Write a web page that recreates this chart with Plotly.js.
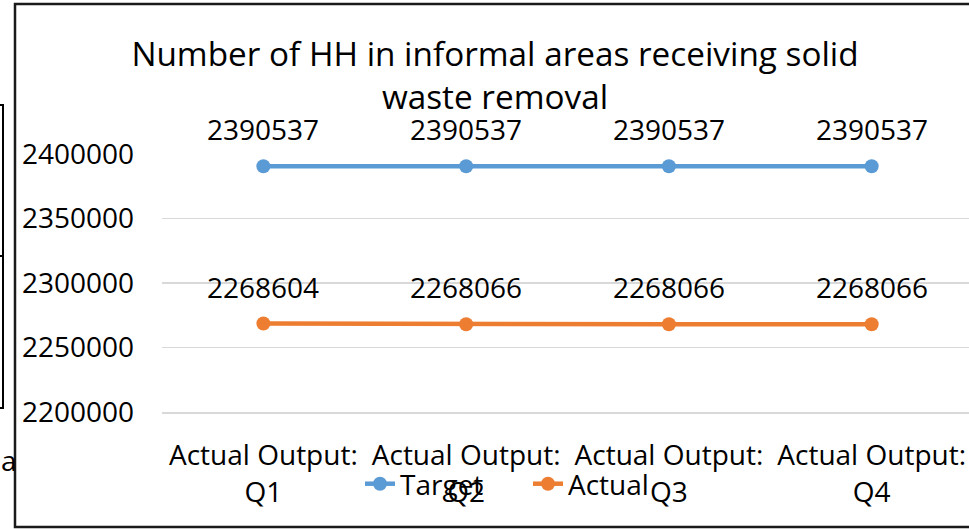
<!DOCTYPE html>
<html>
<head>
<meta charset="utf-8">
<script src="https://cdn.plot.ly/plotly-3.0.1.min.js"></script>
<style>
  body { margin: 0; background: #fff; }
  #chart { width: 969px; height: 529px; }
</style>
</head>
<body>
<div id="chart"></div>
<script>
// chart data
const quarters = ['Actual Output:<br>Q1', 'Actual Output:<br>Q2', 'Actual Output:<br>Q3', 'Actual Output:<br>Q4'];
const targetValues = [2390537, 2390537, 2390537, 2390537];
const actualValues = [2268604, 2268066, 2268066, 2268066];
const yTicks = [2200000, 2250000, 2300000, 2350000, 2400000];

const W = 969, H = 529;
const margin = {l: 162, r: 0, t: 154, b: 117, pad: 0};
const plotW = W - margin.l - margin.r;
const plotH = H - margin.t - margin.b;

// page pixels -> paper coords, used for the frame and the stray marks on the left
const px = (x) => (x - margin.l) / plotW;
const py = (y) => (H - margin.b - y) / plotH;

const FONT = 'Open Sans, Liberation Sans, sans-serif';

function makeTrace(name, values, color) {
    return {
        x: quarters,
        y: values,
        name: name,
        type: 'scatter',
        mode: 'lines+markers',
        line: {color: color, width: 4.5},
        marker: {color: color, size: 14},
        cliponaxis: false
    };
}

// data labels sitting above each point
function valueLabels(values) {
    return values.map((v, i) => ({
        x: quarters[i],
        y: v,
        text: String(v),
        showarrow: false,
        yanchor: 'middle',
        yshift: 37,
        font: {family: FONT, size: 28, color: '#000'}
    }));
}

let annotations = valueLabels(targetValues).concat(valueLabels(actualValues));
annotations.push({
    xref: 'paper', yref: 'paper',
    x: px(-1), y: py(460), xanchor: 'left', yanchor: 'middle',
    text: 'a', showarrow: false,
    font: {family: FONT, size: 28, color: '#000'}
});

let layout = {
    width: W,
    height: H,
    margin: margin,
    paper_bgcolor: '#fff',
    plot_bgcolor: '#fff',
    font: {family: FONT, size: 28, color: '#000'},
    title: {
        text: 'Number of HH in informal areas receiving solid<br>waste removal',
        font: {family: FONT, size: 33.3, color: '#000'},
        xref: 'container', yref: 'container',
        x: 495 / W, xanchor: 'center',
        y: 1 - 66 / H, yanchor: 'middle'
    },
    xaxis: {
        type: 'category',
        range: [-0.5, 3.48],
        showgrid: false,
        showline: true,
        linecolor: '#D9D9D9',
        linewidth: 1.5,
        zeroline: false,
        ticks: '',
        ticklabelstandoff: 18,
        tickfont: {family: FONT, size: 28, color: '#000'}
    },
    yaxis: {
        range: [2200000, 2400000],
        tickvals: yTicks,
        tickformat: 'd',
        showline: false,
        zeroline: false,
        gridcolor: '#D9D9D9',
        gridwidth: 1.5,
        ticks: '',
        ticklabelstandoff: 27,
        tickfont: {family: FONT, size: 28, color: '#000'}
    },
    showlegend: true,
    legend: {
        orientation: 'h',
        x: px(360), y: py(484),
        xanchor: 'left', yanchor: 'middle',
        entrywidth: 123,
        entrywidthmode: 'pixels',
        bgcolor: 'rgba(0,0,0,0)',
        font: {family: FONT, size: 28, color: '#000'}
    },
    annotations: annotations,
    shapes: [
        {   // chart frame
            type: 'rect', xref: 'paper', yref: 'paper',
            x0: px(15), x1: px(990), y0: py(527), y1: py(4),
            line: {color: '#1a1a1a', width: 2.5}
        },
        {   // bracket bit at the far left
            type: 'path', xref: 'paper', yref: 'paper',
            path: 'M ' + px(0) + ',' + py(105) + ' L ' + px(3) + ',' + py(105) +
                  ' L ' + px(3) + ',' + py(408) + ' L ' + px(0) + ',' + py(408) +
                  ' M ' + px(0) + ',' + py(256) + ' L ' + px(3) + ',' + py(256),
            line: {color: '#000', width: 2}
        }
    ],
    hovermode: false
};

Plotly.newPlot('chart', [
    makeTrace('Target', targetValues, '#5B9BD5'),
    makeTrace('Actual', actualValues, '#ED7D31')
], layout, {displayModeBar: false, staticPlot: true});
</script>
</body>
</html>
